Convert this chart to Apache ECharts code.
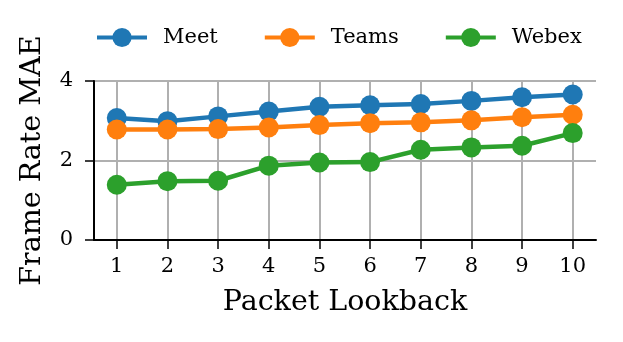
<!DOCTYPE html>
<html>
<head>
<meta charset="utf-8">
<script src="https://cdn.jsdelivr.net/npm/echarts@6/dist/echarts.min.js"></script>
<style>
  html, body { margin: 0; padding: 0; background: #fff; }
  #chart { width: 623px; height: 342px; }
</style>
</head>
<body>
<div id="chart"></div>
<script>
// packet lookback values on the x axis
const lookback = [1, 2, 3, 4, 5, 6, 7, 8, 9, 10];
const meet = [3.07, 2.99, 3.11, 3.23, 3.35, 3.39, 3.42, 3.50, 3.59, 3.66];
const teams = [2.78, 2.78, 2.79, 2.83, 2.89, 2.94, 2.96, 3.01, 3.09, 3.15];
const webex = [1.39, 1.48, 1.49, 1.87, 1.95, 1.96, 2.27, 2.33, 2.37, 2.69];
const yTicks = [0, 2, 4];

const font = 'DejaVu Serif';

function pairs(vals) {
  return lookback.map((x, i) => [x, vals[i]]);
}

function lineSeries(name, color, vals) {
  return {
    name: name,
    type: 'line',
    data: pairs(vals),
    symbol: 'circle',
    symbolSize: 20,
    lineStyle: { color: color, width: 4.5 },
    itemStyle: { color: color },
    emphasis: { disabled: true }
  };
}

const chart = echarts.init(document.getElementById('chart'));
chart.setOption({
  animation: false,
  textStyle: { fontFamily: font },
  legend: {
    left: 95,
    top: 27,
    padding: 0,
    itemWidth: 50,
    itemHeight: 24,
    itemGap: 45,
    lineStyle: { width: 4 },
    textStyle: { fontFamily: font, fontSize: 21, color: '#000', padding: [0, 0, 0, 11] },
    data: ['Meet', 'Teams', 'Webex']
  },
  grid: { left: 94, right: 27, top: 81, bottom: 102 },
  xAxis: {
    type: 'value',
    min: 0.55,
    max: 10.46,
    name: 'Packet Lookback',
    nameLocation: 'middle',
    nameGap: 48,
    nameTextStyle: { fontFamily: font, fontSize: 28.5, color: '#000' },
    axisLine: { lineStyle: { color: '#000', width: 2 } },
    axisTick: { length: 9, lineStyle: { color: '#000', width: 1.5 }, customValues: lookback },
    axisLabel: { fontFamily: font, fontSize: 21, color: '#000', margin: 16, customValues: lookback },
    splitLine: { show: true, lineStyle: { color: '#b0b0b0', width: 2 } }
  },
  yAxis: {
    type: 'value',
    min: 0,
    max: 4,
    interval: 2,
    name: 'Frame Rate MAE',
    nameLocation: 'middle',
    nameGap: 47,
    nameTextStyle: { fontFamily: font, fontSize: 28.5, color: '#000' },
    axisLine: { show: true, lineStyle: { color: '#000', width: 2 } },
    axisTick: { show: true, length: 9, lineStyle: { color: '#000', width: 1.5 } },
    axisLabel: { fontFamily: font, fontSize: 21, color: '#000', margin: 21,
      formatter: v => yTicks.includes(v) ? String(v) : '' },
    splitLine: { show: true, lineStyle: { color: '#b0b0b0', width: 2 } }
  },
  series: [
    lineSeries('Meet', '#1f77b4', meet),
    lineSeries('Teams', '#ff7f0e', teams),
    lineSeries('Webex', '#2ca02c', webex)
  ]
});
</script>
</body>
</html>
